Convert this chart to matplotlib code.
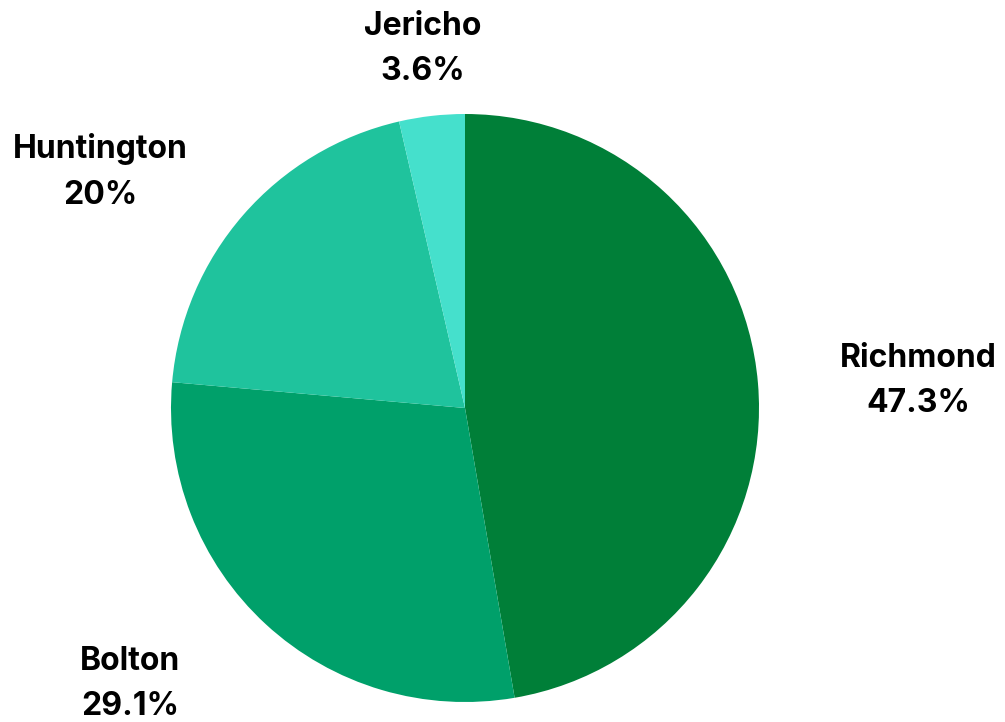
import matplotlib
matplotlib.use("Agg")
import matplotlib.pyplot as plt

# 데이터
names = ["Richmond", "Bolton", "Huntington", "Jericho"]
shares = [47.3, 29.1, 20.0, 3.6]
share_labels = ["47.3%", "29.1%", "20%", "3.6%"]
colors = ["#007f38", "#00a06a", "#1fc39d", "#45e0cc"]

# 라벨 위치 (픽셀, 위에서부터)
label_pos = [(918, 381), (130, 684), (100, 172), (423, 49)]

W, H = 1005, 722
fig = plt.figure(figsize=(W / 100, H / 100), dpi=100)
ax = fig.add_axes([0, 0, 1, 1])

cx, cy, r = 465, 408, 294
# y축이 뒤집혀 있으니 counterclock=True 로 두면 화면상 시계방향
ax.pie(shares, colors=colors, startangle=-90, counterclock=True,
       center=(cx, cy), radius=r, frame=True,
       wedgeprops=dict(linewidth=0, antialiased=True))
ax.set_xlim(0, W)
ax.set_ylim(H, 0)
ax.axis("off")

for name, lab, (x, y) in zip(names, share_labels, label_pos):
    ax.text(x, y, f"{name}\n{lab}", ha="center", va="center", fontsize=23,
            fontweight="bold", family=["Inter", "DejaVu Sans"],
            linespacing=1.62, color="#000000")

fig.savefig("out.png", dpi=100)
